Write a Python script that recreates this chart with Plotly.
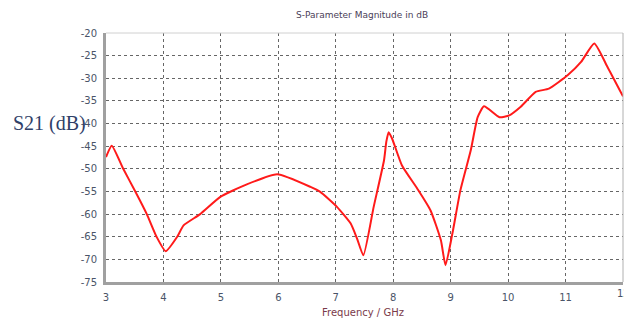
import plotly.graph_objects as go

freq = [3.00, 3.10, 3.30, 3.51, 3.71, 3.88, 4.04, 4.24, 4.35, 4.64, 4.99, 5.42, 5.98,
        6.56, 6.73, 7.02, 7.26, 7.37, 7.48, 7.66, 7.84, 7.88, 7.92, 7.98, 8.15, 8.42,
        8.65, 8.83, 8.91, 9.03, 9.17, 9.35, 9.47, 9.58, 9.85, 10.02, 10.22, 10.48,
        10.71, 11.04, 11.27, 11.50, 11.73, 12.00]
s21 = [-47.4, -44.9, -50.0, -55.0, -60.0, -65.0, -68.2, -65.0, -62.5, -60.0, -56.2, -53.6, -51.2,
       -54.0, -55.1, -58.4, -62.1, -65.4, -69.1, -58.4, -48.1, -44.0, -41.9, -43.3, -49.2, -54.4,
       -59.2, -65.8, -71.3, -64.3, -54.7, -45.9, -38.6, -36.2, -38.6, -38.2, -36.3, -33.0,
       -32.3, -29.3, -26.4, -22.3, -27.5, -34.0]

x_ticks = [3, 4, 5, 6, 7, 8, 9, 10, 11, 12]
y_ticks = [-20, -25, -30, -35, -40, -45, -50, -55, -60, -65, -70, -75]

title_text = "S-Parameter Magnitude in dB"
x_title = "Frequency / GHz"
y_title = "S21 (dB)"

fig = go.Figure()
fig.add_trace(go.Scatter(x=freq, y=s21, mode="lines",
                         line=dict(color="#ff1a1a", width=2, shape="spline", smoothing=0.5),
                         showlegend=False, hoverinfo="skip"))

tickfont = dict(family="DejaVu Sans", size=10, color="#4a5468")
fig.update_layout(
    width=624, height=323,
    margin=dict(l=106, r=1, t=33, b=41),
    paper_bgcolor="white", plot_bgcolor="white",
    hovermode=False,
    xaxis=dict(range=[3, 12], tickvals=x_ticks, ticktext=[str(v) for v in x_ticks],
               showgrid=True, gridcolor="#666666", griddash="dot", gridwidth=1,
               showline=True, linecolor="#a0a0a0", linewidth=3, mirror=False,
               ticks="outside", ticklen=4, tickcolor="white", tickfont=tickfont,
               zeroline=False, automargin=False),
    yaxis=dict(range=[-75, -20], tickvals=y_ticks, ticktext=[str(v) for v in y_ticks],
               showgrid=True, gridcolor="#666666", griddash="dot", gridwidth=1,
               showline=True, linecolor="#a0a0a0", linewidth=3,
               ticks="outside", ticklen=4, tickcolor="white", tickfont=tickfont,
               zeroline=False, automargin=False),
    shapes=[
        dict(type="line", xref="paper", yref="paper", x0=0, x1=1, y0=1, y1=1,
             line=dict(color="#d0d0d0", width=1)),
        dict(type="line", xref="paper", yref="paper", x0=1, x1=1, y0=0, y1=1,
             line=dict(color="#b0b0b0", width=1)),
    ],
    annotations=[
        dict(text=title_text, xref="paper", yref="paper", x=0.495, y=1.072,
             showarrow=False, xanchor="center", yanchor="middle",
             font=dict(family="DejaVu Sans", size=9, color="#4a4058")),
        dict(text=x_title, xref="paper", yref="paper", x=0.498, y=-0.122,
             showarrow=False, xanchor="center", yanchor="middle",
             font=dict(family="DejaVu Sans", size=10, color="#7a3a4a")),
        dict(text=y_title, xref="paper", yref="paper", x=-0.183, y=0.638,
             showarrow=False, xanchor="left", yanchor="middle",
             font=dict(family="Liberation Serif", size=20, color="#2f4068")),
        dict(text=str(x_ticks[-1]), xref="x", yref="paper", x=x_ticks[-1], y=-0.018,
             showarrow=False, xanchor="center", yanchor="top", font=tickfont),
    ],
)

fig.write_html("out.html", config={"displayModeBar": False, "staticPlot": True},
               post_script="document.body.style.margin='0';document.body.style.overflow='hidden';")
